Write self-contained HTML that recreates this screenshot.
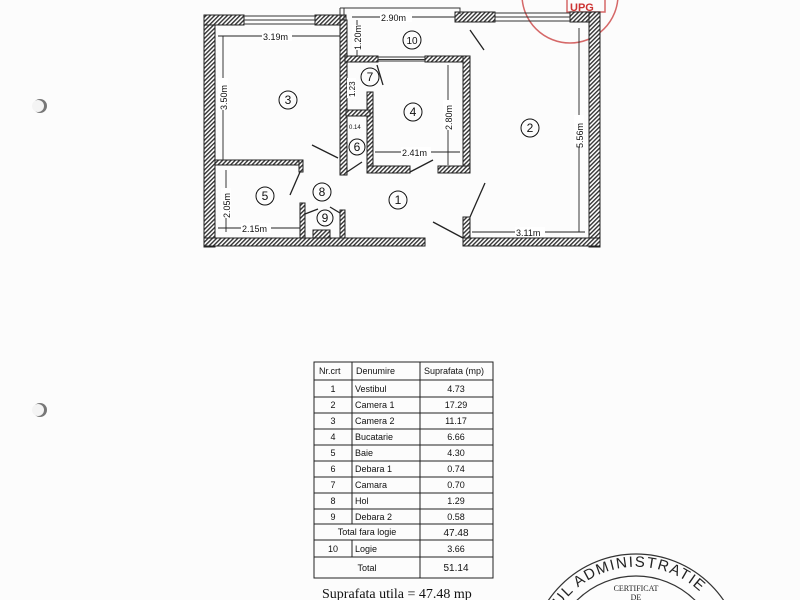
<!DOCTYPE html>
<html><head><meta charset="utf-8"><style>
html,body{margin:0;background:#fff;width:800px;height:600px;overflow:hidden}
svg{display:block}
</style></head><body>
<svg width="800" height="600" viewBox="0 0 800 600" xmlns="http://www.w3.org/2000/svg" font-family="Liberation Sans, sans-serif" overflow="hidden">
<defs>
<pattern id="h" width="3" height="3" patternUnits="userSpaceOnUse" patternTransform="rotate(45)">
<rect width="3" height="3" fill="#fff"/><rect width="1.4" height="3" fill="#333"/></pattern>
</defs>
<rect width="800" height="600" fill="#fcfcfc"/>
<circle cx="40" cy="106" r="7" fill="#777"/><circle cx="38" cy="106" r="6" fill="#f4f4f4"/>
<circle cx="40" cy="410" r="7" fill="#777"/><circle cx="38" cy="410" r="6" fill="#f4f4f4"/>
<g stroke="#c44" fill="none" opacity="0.8">
<circle cx="570" cy="-5" r="48" stroke-width="1.5"/>
<rect x="567" y="-2" width="38" height="14" stroke-width="1.5"/>
</g>
<text x="570" y="11" font-size="11" fill="#c33" font-weight="bold">UPG</text>
<g fill="url(#h)" stroke="#222" stroke-width="1">
<rect x="204" y="15" width="11" height="232"/>
<rect x="204" y="15" width="40" height="10"/>
<rect x="315" y="15" width="31" height="10"/>
<rect x="340" y="20" width="7" height="155"/>
<rect x="345" y="56" width="33" height="6"/>
<rect x="425" y="56" width="45" height="6"/>
<rect x="463" y="56" width="7" height="117"/>
<rect x="367" y="92" width="6" height="81"/>
<rect x="367" y="166" width="43" height="7"/>
<rect x="438" y="166" width="32" height="7"/>
<rect x="346" y="110" width="24" height="6"/>
<rect x="455" y="12" width="40" height="10"/>
<rect x="570" y="12" width="30" height="10"/>
<rect x="589" y="12" width="11" height="235"/>
<rect x="215" y="160" width="87" height="5"/>
<rect x="299" y="160" width="4" height="12"/>
<rect x="300" y="203" width="5" height="38"/>
<rect x="340" y="210" width="5" height="31"/>
<rect x="313" y="230" width="17" height="10"/>
<rect x="204" y="238" width="221" height="8"/>
<rect x="463" y="217" width="7" height="29"/>
<rect x="463" y="238" width="137" height="8"/>
</g>
<g stroke="#333" stroke-width="1" fill="none">
<path d="M244 16H315M244 20H315M244 24H315"/>
<path d="M495 13H570M495 17H570M495 21H570"/>
<path d="M378 57H425M378 59.5H425M378 61H425"/>
<path d="M340 8H460V14M340 8V20M344 8V20"/>
</g>
<g stroke="#222" stroke-width="1.3">
<line x1="470" y1="30" x2="484" y2="50"/>
<line x1="377" y1="65" x2="383" y2="85"/>
<line x1="312" y1="145" x2="338" y2="158"/>
<line x1="347" y1="172" x2="362" y2="162"/>
<line x1="410" y1="172" x2="433" y2="160"/>
<line x1="300" y1="172" x2="290" y2="195"/>
<line x1="305" y1="214" x2="318" y2="209"/>
<line x1="330" y1="207" x2="340" y2="213"/>
<line x1="433" y1="222" x2="463" y2="238"/>
<line x1="470" y1="217" x2="485" y2="183"/>
</g>
<g stroke="#222" stroke-width="0.9">
<line x1="218" y1="36" x2="340" y2="36"/>
<line x1="223" y1="36" x2="223" y2="160"/>
<line x1="226" y1="170" x2="226" y2="232"/>
<line x1="218" y1="228" x2="300" y2="228"/>
<line x1="352" y1="17" x2="455" y2="17"/>
<line x1="357" y1="20" x2="357" y2="57"/>
<line x1="448" y1="65" x2="448" y2="165"/>
<line x1="375" y1="152" x2="460" y2="152"/>
<line x1="579" y1="28" x2="579" y2="232"/>
<line x1="472" y1="232" x2="585" y2="232"/>
</g>
<g font-size="9" fill="#111">
<rect x="262" y="31" width="30" height="10" fill="#fff"/><text x="263" y="40">3.19m</text>
<rect x="380" y="12" width="32" height="10" fill="#fff"/><text x="381" y="21">2.90m</text>
<rect x="401" y="147" width="30" height="10" fill="#fff"/><text x="402" y="156">2.41m</text>
<rect x="241" y="223" width="30" height="10" fill="#fff"/><text x="242" y="232">2.15m</text>
<rect x="515" y="227" width="30" height="10" fill="#fff"/><text x="516" y="236">3.11m</text>
<g fill="#fff"><rect x="218" y="78" width="10" height="32"/><rect x="221" y="188" width="10" height="30"/><rect x="352" y="25" width="10" height="25"/><rect x="443" y="100" width="10" height="30"/><rect x="574" y="115" width="10" height="32"/><rect x="347" y="78" width="9" height="20"/></g>
<text transform="translate(227,110) rotate(-90)">3.50m</text>
<text transform="translate(230,218) rotate(-90)">2.05m</text>
<text transform="translate(361,50) rotate(-90)">1.20m</text>
<text transform="translate(452,130) rotate(-90)">2.80m</text>
<text transform="translate(583,148) rotate(-90)">5.56m</text>
<text transform="translate(355,97) rotate(-90)" font-size="8">1.23</text>
<text x="349" y="129" font-size="6">0.14</text>
</g>
<g font-size="12" fill="#111" text-anchor="middle">
<g fill="none" stroke="#111" stroke-width="1">
<circle cx="412" cy="40" r="9"/><circle cx="370" cy="77" r="9"/><circle cx="288" cy="100" r="9"/><circle cx="413" cy="112" r="9"/><circle cx="530" cy="128" r="9"/><circle cx="357" cy="147" r="8"/><circle cx="265" cy="196" r="9"/><circle cx="322" cy="192" r="9"/><circle cx="398" cy="200" r="9"/><circle cx="325" cy="218" r="8"/>
</g>
<text x="412" y="44" font-size="10">10</text><text x="370" y="81">7</text><text x="288" y="104">3</text><text x="413" y="116">4</text><text x="530" y="132">2</text><text x="357" y="151">6</text><text x="265" y="200">5</text><text x="322" y="196">8</text><text x="398" y="204">1</text><text x="325" y="222">9</text>
</g>
<g stroke="#222" stroke-width="1" fill="none">
<rect x="314" y="362" width="179" height="216"/>
<path d="M314 380H493M314 397H493M314 413H493M314 429H493M314 445H493M314 461H493M314 477H493M314 493H493M314 509H493M314 524H493M314 540H493M314 557H493"/>
<path d="M352 362V524M352 540V557M420 362V578"/>
</g>
<g font-size="9" fill="#111">
<text x="319" y="374">Nr.crt</text><text x="356" y="374">Denumire</text><text x="424" y="374">Suprafata (mp)</text>
<g text-anchor="middle"><text x="333" y="392">1</text><text x="333" y="408">2</text><text x="333" y="424">3</text><text x="333" y="440">4</text><text x="333" y="456">5</text><text x="333" y="472">6</text><text x="333" y="488">7</text><text x="333" y="504">8</text><text x="333" y="520">9</text><text x="333" y="552">10</text>
<text x="456" y="392">4.73</text><text x="456" y="408">17.29</text><text x="456" y="424">11.17</text><text x="456" y="440">6.66</text><text x="456" y="456">4.30</text><text x="456" y="472">0.74</text><text x="456" y="488">0.70</text><text x="456" y="504">1.29</text><text x="456" y="520">0.58</text><text x="456" y="536" font-size="10">47.48</text><text x="456" y="552">3.66</text><text x="456" y="571" font-size="10">51.14</text>
<text x="367" y="535">Total fara logie</text><text x="367" y="571">Total</text></g>
<text x="355" y="392">Vestibul</text><text x="355" y="408">Camera 1</text><text x="355" y="424">Camera 2</text><text x="355" y="440">Bucatarie</text><text x="355" y="456">Baie</text><text x="355" y="472">Debara 1</text><text x="355" y="488">Camara</text><text x="355" y="504">Hol</text><text x="355" y="520">Debara 2</text><text x="355" y="552">Logie</text>
</g>
<text x="322" y="598" font-family="Liberation Serif, serif" font-size="14" fill="#111">Suprafata  utila  = 47.48 mp</text>
<g fill="none" stroke="#333" stroke-width="1.2">
<circle cx="636" cy="660" r="106"/><circle cx="636" cy="660" r="84"/>
</g>
<path id="arc" d="M560 607 A93 93 0 0 1 717 613" fill="none"/>
<text font-family="Liberation Sans, sans-serif" font-size="15" letter-spacing="1.5" fill="#222"><textPath href="#arc">UL ADMINISTRATIE</textPath></text>
<text x="636" y="591" font-family="Liberation Serif, serif" font-size="8" text-anchor="middle" fill="#222">CERTIFICAT</text>
<text x="636" y="600" font-family="Liberation Serif, serif" font-size="8" text-anchor="middle" fill="#222">DE</text>
</svg>
</body></html>
